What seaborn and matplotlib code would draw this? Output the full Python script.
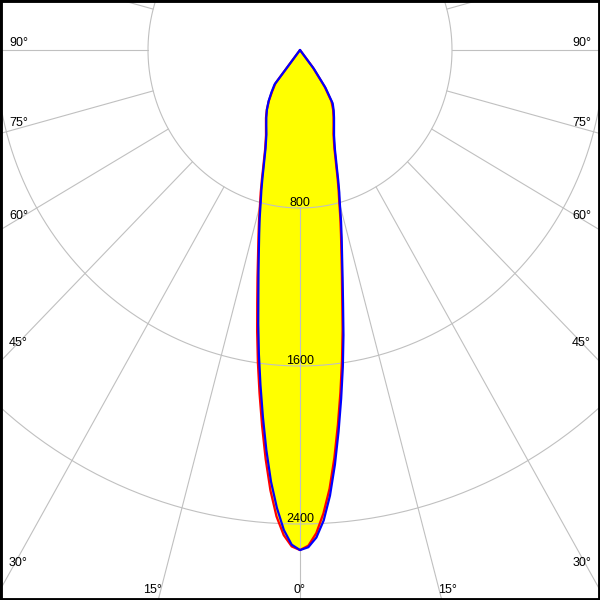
import numpy as np
import pandas as pd
import matplotlib
matplotlib.use("Agg")
import matplotlib.pyplot as plt
import seaborn as sns

# gamma angles (deg from nadir) and luminous intensity (cd) per C-plane
angles = [0, 1, 2, 3, 4, 5, 6, 7, 8, 9, 10, 11, 12, 13, 14, 15, 16, 17, 18, 19, 20,
          22.5, 25, 27.5, 30, 32.5, 35, 37.5, 40, 45, 50, 55, 60, 65, 70, 75, 80, 85, 90]
red_c0 = [2532, 2510, 2448, 2350, 2227, 2073, 1907, 1745, 1588, 1432, 1278, 1155, 1048, 958, 877,
          798, 736, 675, 617, 570, 528, 460, 418, 382, 348, 308, 225, 110, 0,
          0, 0, 0, 0, 0, 0, 0, 0, 0, 0]
red_c180 = [2532, 2514, 2458, 2365, 2235, 2078, 1912, 1750, 1595, 1443, 1297, 1173, 1063, 973, 893,
            815, 751, 687, 628, 580, 538, 468, 424, 388, 350, 305, 255, 212, 0,
            0, 0, 0, 0, 0, 0, 0, 0, 0, 0]
blue_c90 = [2532, 2518, 2470, 2385, 2262, 2108, 1942, 1778, 1620, 1462, 1305, 1175, 1065, 975, 893,
            812, 750, 687, 628, 580, 538, 468, 424, 388, 355, 320, 235, 120, 0,
            0, 0, 0, 0, 0, 0, 0, 0, 0, 0]
blue_c270 = [2532, 2505, 2432, 2322, 2190, 2033, 1868, 1708, 1555, 1405, 1262, 1145, 1042, 955, 877,
             800, 737, 675, 618, 571, 530, 462, 420, 384, 348, 308, 262, 220, 0,
             0, 0, 0, 0, 0, 0, 0, 0, 0, 0]

ring_values = [800, 1600, 2400]
ring_labels = ["800", "1600", "2400"]
spoke_angles = list(range(0, 360, 15))
edge_ticks = [30, 45, 60, 75, 90]
bottom_ticks = [0, 15]


def to_xy(theta, r, side=1):
    t = np.radians(np.asarray(theta, dtype=float))
    r = np.asarray(r, dtype=float)
    return side * r * np.sin(t), -r * np.cos(t)


def curve_frame(name, left, right):
    xl, yl = to_xy(angles[::-1], left[::-1], -1)
    xr, yr = to_xy(angles, right, 1)
    return pd.DataFrame({"x": np.concatenate([xl, xr]),
                         "y": np.concatenate([yl, yr]),
                         "curve": name})


df = pd.concat([curve_frame("C0-C180", red_c180, red_c0),
                curve_frame("C90-C270", blue_c270, blue_c90)], ignore_index=True)

sns.set_style("white")
plt.rcParams["font.family"] = ["Liberation Sans", "DejaVu Sans"]
plt.rcParams["text.color"] = "black"

fig = plt.figure(figsize=(6, 6), dpi=100)
ax = fig.add_axes([0, 0, 1, 1])

# yellow body under everything
for name, g in df.groupby("curve"):
    ax.fill(g["x"], g["y"], color="#ffff00", lw=0, zorder=1)

# grid: rings and spokes
grid_kw = dict(color="#c0c0c0", lw=0.8, zorder=2)
t = np.linspace(0, 360, 721)
for v in ring_values:
    gx, gy = to_xy(t, np.full_like(t, v))
    ax.plot(gx, gy, **grid_kw)
for a in spoke_angles:
    gx, gy = to_xy([a, a], [ring_values[0], 6000])
    ax.plot(gx, gy, **grid_kw)

sns.lineplot(data=df, x="x", y="y", hue="curve", sort=False, estimator=None,
             palette={"C0-C180": "#ff0000", "C90-C270": "#0000ff"},
             lw=1.6, legend=False, ax=ax, zorder=3)

fs = 9
for v, lab in zip(ring_values, ring_labels):
    ax.text(0, -v + 12, lab, ha="center", va="baseline", fontsize=fs,
            color="black", zorder=4)

# angle labels along the frame
for a in edge_ticks:
    ypx = 50 + 300 * np.cos(np.radians(a)) / np.sin(np.radians(a)) - 4
    yf = 1 - ypx / 600
    ax.text(9 / 600, yf, f"{a}°", ha="left", va="baseline", fontsize=fs,
            color="black", transform=ax.transAxes)
    ax.text(591 / 600, yf, f"{a}°", ha="right", va="baseline", fontsize=fs,
            color="black", transform=ax.transAxes)
for a in bottom_ticks:
    for side in ([1] if a == 0 else [-1, 1]):
        xpx = 300 + side * 550 * np.tan(np.radians(a))
        ax.text(xpx / 600, 1 - 593 / 600, f"{a}°", ha="center", va="baseline",
                fontsize=fs, color="black", transform=ax.transAxes)

ax.set_xlim(-300 / 0.19, 300 / 0.19)
ax.set_ylim(-550 / 0.1975, 50 / 0.1975)
ax.set_xticks([])
ax.set_yticks([])
ax.set_xlabel("")
ax.set_ylabel("")
for s in ax.spines.values():
    s.set_visible(True)
    s.set_color("black")
    s.set_linewidth(3.5)

fig.savefig("out.png", dpi=100)
